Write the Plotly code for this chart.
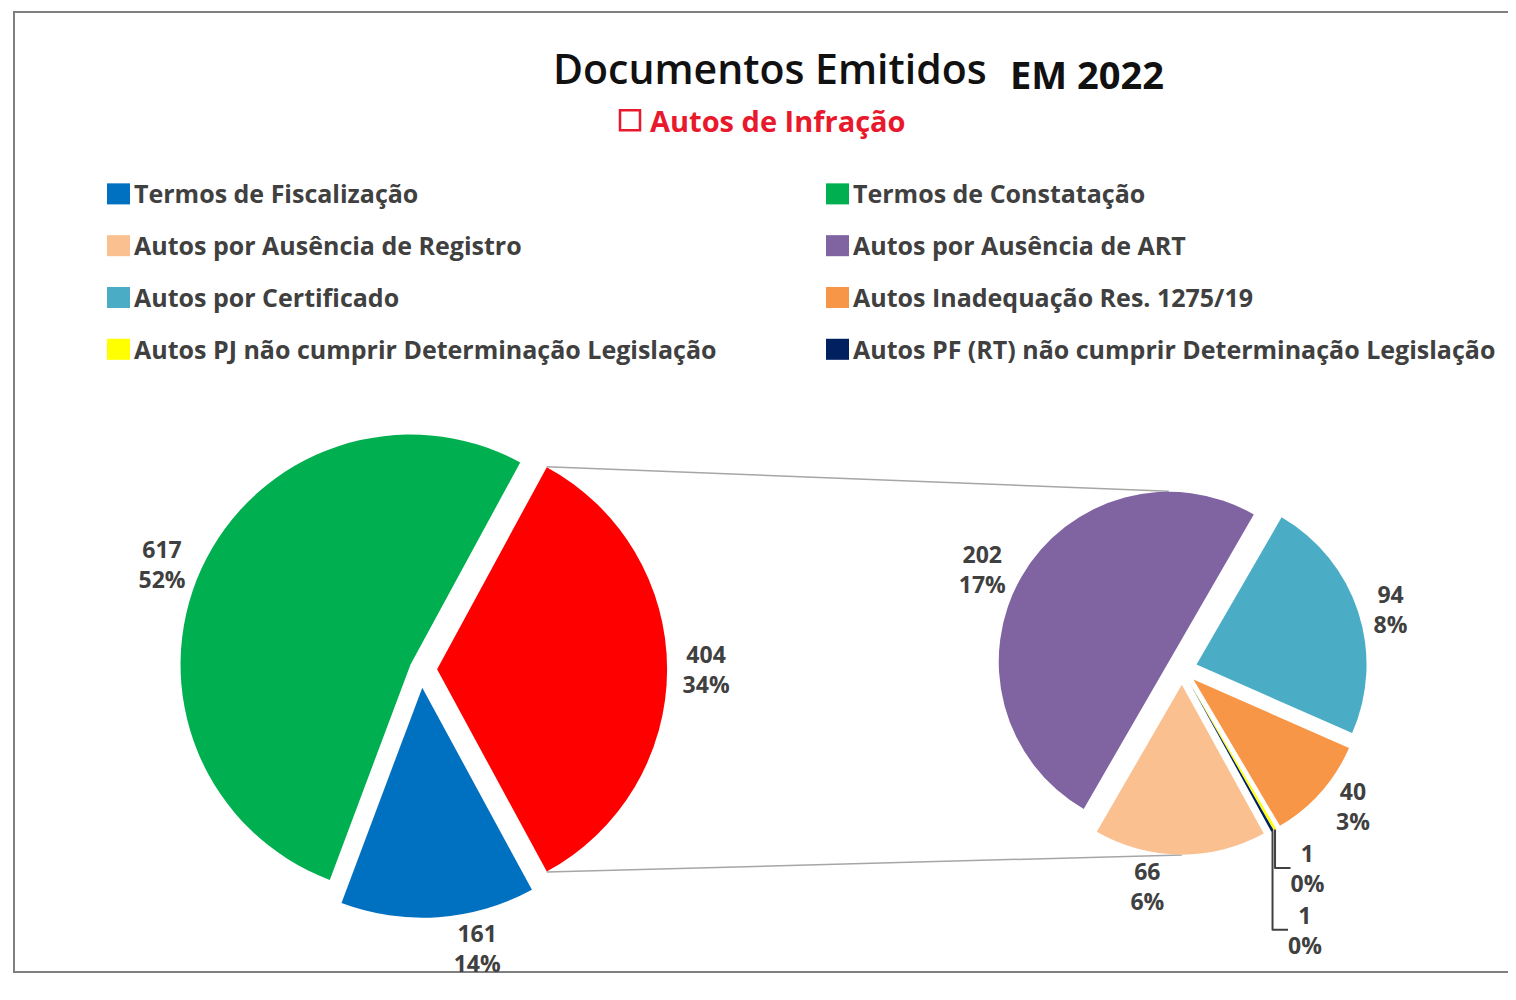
import math
import plotly.graph_objects as go

# Main pie
main_labels = ["Termos de Fiscalização", "Termos de Constatação", "Autos de Infração"]
main_values = [161, 617, 404]
main_colors = ["#0070c0", "#00b050", "#ff0000"]

# Breakdown of "Autos de Infração"
sub_labels = ["Autos por Ausência de Registro", "Autos por Ausência de ART", "Autos por Certificado",
              "Autos Inadequação Res. 1275/19", "Autos PJ não cumprir Determinação Legislação",
              "Autos PF (RT) não cumprir Determinação Legislação"]
sub_values = [66, 202, 94, 40, 1, 1]
sub_colors = ["#fac090", "#8064a2", "#4bacc6", "#f79646", "#ffff00", "#002060"]

# page is offset by the default 8px body margin
OFF = 8
W, H = 1516 - OFF, 1000 - OFF
K = 0.979  # vertical correction seen in the rendered page
total = sum(main_values)
FONT = "Open Sans"
TXT = "#404040"


def pct_text(values):
    return [f"{v}<br>{round(100 * v / total)}%" for v in values]


def px(x, y):
    # page pixel -> paper coords
    return (x - OFF) / W, 1 - (y - OFF) / H


# pie geometry (page pixels)
c1, r1, pull1 = (421, 668), 230, [0.08, 0.05, 0.07]
c2, r2, pull2 = (1182, 668), 170, [0.09] * 6


def domain(c, r, pulls):
    half = r * (1 + max(pulls))
    xa, ya = px(c[0] - half, c[1] + half)
    xb, yb = px(c[0] + half, c[1] - half)
    return dict(x=[xa, xb], y=[ya, yb])


# "Autos de Infração" slice centred at 3 o'clock
rot1 = 90 + main_values[2] / total * 180
rot2 = 151.2

lab_font = dict(family=FONT, size=23, color=TXT, weight=700)

fig = go.Figure()
fig.add_trace(go.Pie(labels=main_labels, values=main_values, sort=False, direction="clockwise",
                     rotation=rot1, pull=pull1, domain=domain(c1, r1, pull1),
                     marker=dict(colors=main_colors, line=dict(width=0)),
                     text=pct_text(main_values), textinfo="text", textposition="outside",
                     textfont=lab_font, showlegend=False, hoverinfo="label+value"))
fig.add_trace(go.Pie(labels=sub_labels, values=sub_values, sort=False, direction="clockwise",
                     rotation=rot2, pull=pull2, domain=domain(c2, r2, pull2),
                     marker=dict(colors=sub_colors, line=dict(width=0)),
                     text=pct_text(sub_values), textinfo="text", textposition="outside",
                     textfont=lab_font, showlegend=False, hoverinfo="label+value"))

# connector lines from the "Autos de Infração" slice to the secondary pie
red_deg = main_values[2] / total * 360
ax, ay = c1[0] + pull1[2] * r1, c1[1]
a_top, a_bot = math.radians(90 - red_deg / 2), math.radians(90 + red_deg / 2)
p_top = (ax + r1 * math.sin(a_top), ay - r1 * math.cos(a_top))
p_bot = (ax + r1 * math.sin(a_bot), ay - r1 * math.cos(a_bot))
sub_tot = sum(sub_values)
mids, acc = [], rot2
for v in sub_values:
    d = v / sub_tot * 360
    mids.append(math.radians(acc + d / 2))
    acc += d
q_top = (c2[0] + pull2[1] * r2 * math.sin(mids[1]), c2[1] - pull2[1] * r2 * math.cos(mids[1]) - r2)
q_bot = (c2[0] + pull2[0] * r2 * math.sin(mids[0]), c2[1] - pull2[0] * r2 * math.cos(mids[0]) + r2)

fx0, fy0 = px(14, 970)
fx1, fy1 = px(1530, 12)
shapes = [dict(type="rect", xref="paper", yref="paper", x0=fx0, x1=fx1, y0=fy0, y1=fy1,
               line=dict(color="#7f7f7f", width=2), layer="below")]
for p, q in [(p_top, q_top), (p_bot, q_bot)]:
    x0, y0 = px(*p)
    x1, y1 = px(*q)
    shapes.append(dict(type="line", xref="paper", yref="paper", x0=x0, y0=y0, x1=x1, y1=y1,
                       line=dict(color="#a6a6a6", width=1.5), layer="below"))

# legend (two columns, row-major as in the original)
leg_labels = main_labels[:2] + sub_labels
leg_colors = main_colors[:2] + sub_colors
annotations = []
for i, (lab, col) in enumerate(zip(leg_labels, leg_colors)):
    lx = 107 if i % 2 == 0 else 826
    ly = 193 + (i // 2) * 51.7
    x0, y0 = px(lx, ly + 11)
    x1, y1 = px(lx + 23, ly - 10)
    shapes.append(dict(type="rect", xref="paper", yref="paper", x0=x0, y0=y0, x1=x1, y1=y1,
                       fillcolor=col, line=dict(width=0)))
    tx, ty = px(lx + 25, ly)
    annotations.append(dict(text=lab, x=tx, y=ty, xref="paper", yref="paper", xanchor="left",
                            yanchor="middle", showarrow=False,
                            font=dict(family=FONT, size=25, color=TXT, weight=700)))

# title
tx, ty = px(770, 68)
annotations.append(dict(text="Documentos Emitidos", x=tx, y=ty, xref="paper", yref="paper",
                        xanchor="center", yanchor="middle", showarrow=False,
                        font=dict(family=FONT, size=41, color="#111111", weight=600)))
tx, ty = px(1008, 74)
annotations.append(dict(text="EM 2022", x=tx, y=ty, xref="paper", yref="paper",
                        xanchor="left", yanchor="middle", showarrow=False,
                        font=dict(family=FONT, size=38, color="#111111", weight=700)))
tx, ty = px(648, 120)
annotations.append(dict(text=main_labels[2], x=tx, y=ty, xref="paper", yref="paper",
                        xanchor="left", yanchor="middle", showarrow=False,
                        font=dict(family=FONT, size=29, color="#e8192c", weight=700)))
x0, y0 = px(620, 130)
x1, y1 = px(640, 110)
shapes.append(dict(type="rect", xref="paper", yref="paper", x0=x0, y0=y0, x1=x1, y1=y1,
                   line=dict(color="#e8192c", width=2.5)))

fig.update_layout(width=W, height=round(H / K), margin=dict(l=0, r=0, t=0, b=0),
                  paper_bgcolor="white", plot_bgcolor="white",
                  shapes=shapes, annotations=annotations)

fig.write_html("out.html")
